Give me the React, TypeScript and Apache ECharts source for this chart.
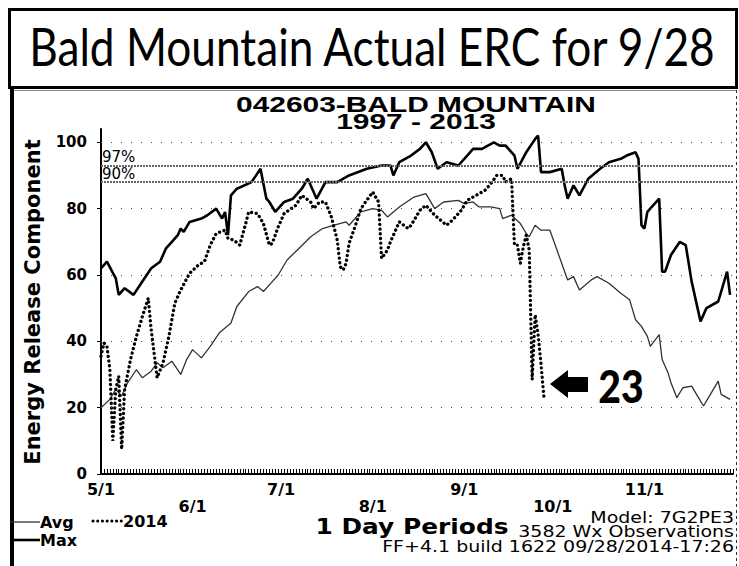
import React, { useEffect, useRef } from "react";
import * as echarts from "echarts";

// ---- axis definitions (day 0 = 5/1) ----
const monthStartDays = [0, 31, 61, 92, 123, 153, 184];
const monthLabels = ["5/1", "6/1", "7/1", "8/1", "9/1", "10/1", "11/1"];
const yTicks = [0, 20, 40, 60, 80, 100];
const pctLevels = [93, 88];
const pctLabels = ["97%", "90%"];

// ---- Max (1997-2013) ----
const maxDays = [0, 2, 5, 6, 8, 11, 14, 17, 20, 22, 24, 26, 27, 28, 30, 34, 36, 39, 41, 42, 43, 44, 46, 51, 54, 56, 57, 59, 62, 65, 68, 70, 72, 73, 76, 80, 84, 90, 95, 98, 99, 101, 105, 108, 110, 112, 114, 117, 121, 124, 126, 129, 133, 135, 137, 140, 141, 144, 147, 148, 149, 152, 156, 157, 158, 160, 162, 165, 169, 172, 176, 178, 181, 182, 183, 184, 185, 189, 190, 191, 193, 196, 198, 200, 203, 205, 209, 212, 213];
const maxVals = [62, 64, 59, 54, 56, 54, 58, 62, 64, 68, 70, 72, 74, 73, 76, 77, 78, 80, 77, 79, 72, 84, 86, 88, 92, 83, 82, 79, 82, 83, 86, 89, 85, 83, 88, 88, 90, 92, 93, 93, 90, 94, 96, 98, 100, 97, 92, 94, 93, 96, 98, 98, 100, 99, 99, 96, 92, 97, 101, 102, 91, 91, 92, 87, 83, 87, 84, 89, 92, 94, 95, 96, 97, 95, 75, 74, 79, 83, 61, 61, 66, 70, 69, 58, 46, 50, 52, 61, 54];

// ---- Avg (1997-2013) ----
const avgDays = [0, 3, 5, 7, 9, 12, 14, 17, 19, 21, 24, 27, 29, 31, 34, 37, 40, 44, 46, 50, 53, 55, 58, 60, 63, 67, 71, 75, 79, 83, 84, 88, 92, 95, 97, 101, 106, 110, 113, 116, 121, 123, 126, 128, 132, 135, 136, 139, 142, 144, 145, 147, 149, 152, 154, 158, 160, 162, 166, 168, 172, 176, 179, 181, 183, 185, 186, 189, 190, 192, 193, 195, 197, 200, 202, 204, 206, 209, 210, 213];
const avgVals = [20, 22.5, 25.5, 23.5, 27.5, 31.5, 29, 31, 33.5, 32, 34, 30, 34.5, 37.5, 35, 38.5, 42.5, 45.5, 50.5, 55, 56.5, 55, 58, 60, 64.5, 68, 71.5, 74, 75, 76, 75, 79, 80, 79.5, 77.5, 80.5, 83.5, 84.5, 80, 82, 82.5, 81.5, 82, 80.5, 80.5, 80, 77, 78, 75.5, 72.5, 71.5, 75, 73.5, 73.5, 68.5, 58.5, 59.5, 55.5, 58.5, 59.5, 57.5, 54.5, 52.5, 46.5, 44.5, 41.5, 38.5, 42, 34.5, 30.5, 27.5, 23, 26, 26.5, 23.5, 20.5, 23.5, 28, 24, 22.5];

// ---- 2014 ----
const y2014Days = [0, 1, 2, 3, 4, 5, 6, 7, 8, 10, 12, 14, 16, 17, 19, 21, 23, 25, 27, 30, 33, 35, 37, 39, 42, 43, 45, 47, 49, 50, 53, 55, 57, 58, 60, 62, 66, 68, 71, 72, 74, 76, 78, 80, 81, 82, 83, 84, 86, 88, 90, 92, 94, 95, 97, 98, 100, 101, 104, 105, 106, 108, 110, 113, 115, 117, 119, 122, 124, 127, 130, 132, 134, 136, 137, 139, 140, 141, 142, 143, 144, 145, 146, 147, 148, 149, 150];
const y2014Vals = [35.5, 39.5, 38.5, 31.5, 10, 25.5, 29.5, 7.5, 25.5, 34.5, 41.5, 47.5, 53, 43.5, 29, 33.5, 41.5, 51.5, 55.5, 60.5, 63, 64, 69, 72.5, 73.5, 71, 70.5, 69, 75.5, 79, 78.5, 75.5, 69, 69.5, 74.5, 78.5, 81, 84, 82, 80, 82, 82, 77.5, 70.5, 62.5, 61.5, 63.5, 69.5, 74.5, 80, 82.5, 85, 82, 65, 67.5, 70, 74, 76, 74, 75, 76.5, 79.5, 81, 78, 76.5, 75, 76.5, 79.5, 82.5, 84, 85.5, 87.5, 90, 90, 88, 89, 69, 69, 63.5, 68.5, 72, 67.5, 28.5, 48, 42, 33, 23];

const dayTicks = Array.from({ length: 215 }, (_, i) => i);

const pairs = (d: number[], v: number[]) => d.map((x, i) => [x, v[i]]);

const FONT = "'DejaVu Sans', Verdana, sans-serif";
const ARIAL = "'Liberation Sans', Arial, sans-serif";

function fitScale(text: string, font: string, target: number) {
  const c = document.createElement("canvas").getContext("2d");
  if (!c) return 1;
  c.font = font;
  const w = c.measureText(text).width;
  return w > 0 ? target / w : 1;
}

export default function App() {
  const ref = useRef<HTMLDivElement>(null);
  useEffect(() => {
    document.body.style.margin = "0";
    if (!ref.current) return;
    const chart = echarts.init(ref.current, undefined, { renderer: "svg" });
    const titleText = "Bald Mountain Actual ERC for 9/28";
    const titleFont = "52px Lato";
    const titleScale = fitScale(titleText, titleFont, 688);
    const chartTitle = "042603-BALD MOUNTAIN";
    const chartTitleFont = `bold 22px ${ARIAL}`;
    const chartTitleScale = fitScale(chartTitle, chartTitleFont, 360);
    const infoFont = `16px ${FONT}`;
    const infoScale = fitScale("FF+4.1 build 1622 09/28/2014-17:26", infoFont, 352);
    const option: any = {
      animation: false,
      backgroundColor: "#fff",
      grid: { left: 101, right: 6, top: 129, bottom: 92 },
      xAxis: {
        type: "value",
        min: 0,
        max: 214,
        axisLine: { lineStyle: { color: "#000", width: 2 } },
        axisTick: { customValues: dayTicks, inside: true, length: 5, lineStyle: { color: "#000", width: 1 } },
        axisLabel: {
          customValues: monthStartDays,
          formatter: (val: number) => {
            const i = monthStartDays.indexOf(val);
            if (i < 0) return "";
            return i % 2 === 1 ? "\n" + monthLabels[i] : monthLabels[i];
          },
          color: "#000",
          fontFamily: FONT,
          fontWeight: "bold",
          fontSize: 16,
          lineHeight: 17,
          margin: 7,
        },
        splitLine: { show: false },
      },
      yAxis: {
        type: "value",
        min: 0,
        max: 104,
        axisLine: { show: true, lineStyle: { color: "#000", width: 2 } },
        axisTick: { show: true, customValues: yTicks, length: 4, lineStyle: { color: "#000" } },
        axisLabel: {
          customValues: yTicks,
          color: "#000",
          fontFamily: FONT,
          fontWeight: "bold",
          fontSize: 15,
          margin: 14,
        },
        splitLine: { show: false },
      },
      series: [
        {
          name: "Avg",
          type: "line",
          data: pairs(avgDays, avgVals),
          showSymbol: false,
          symbol: "none",
          lineStyle: { color: "#333", width: 1.3 },
          z: 2,
          markLine: {
            silent: true,
            symbol: ["none", "none"],
            label: { show: false },
            lineStyle: { color: "#444", type: [1, 9], width: 1 },
            data: yTicks.filter((v) => v > 0).map((v) => ({ yAxis: v })),
          },
        },
        {
          name: "Max",
          type: "line",
          data: pairs(maxDays, maxVals),
          showSymbol: false,
          symbol: "none",
          lineStyle: { color: "#000", width: 2.6 },
          z: 4,
          markLine: {
            silent: true,
            symbol: ["none", "none"],
            lineStyle: { color: "#666", type: [2, 1], width: 2 },
            label: {
              show: true,
              position: "insideStartTop",
              color: "#000",
              fontFamily: FONT,
              fontSize: 15,
              distance: [1, 1],
            },
            data: pctLevels.map((v, i) => ({ yAxis: v, label: { formatter: pctLabels[i] } })),
          },
        },
        {
          name: "2014",
          type: "line",
          data: pairs(y2014Days, y2014Vals),
          showSymbol: false,
          symbol: "none",
          lineStyle: { color: "#000", width: 3.3, type: [0.1, 4.6], cap: "round" },
          z: 3,
        },
      ],
      graphic: [
        // title box
        { type: "rect", shape: { x: 9.5, y: 9.5, width: 727, height: 78 }, style: { fill: "none", stroke: "#000", lineWidth: 3 } },
        {
          type: "text",
          x: 372,
          y: 46,
          scaleX: titleScale,
          style: { text: titleText, font: titleFont, fill: "#000", textAlign: "center", textVerticalAlign: "middle" },
        },
        // chart frame
        { type: "line", shape: { x1: 12, y1: 88, x2: 12, y2: 566 }, style: { stroke: "#000", lineWidth: 4 } },
        { type: "line", shape: { x1: 14, y1: 90.5, x2: 737, y2: 90.5 }, style: { stroke: "#888", lineWidth: 1 } },
        { type: "line", shape: { x1: 736.5, y1: 90, x2: 736.5, y2: 566 }, style: { stroke: "#333", lineWidth: 1, lineDash: [3, 3] } },
        // chart titles
        {
          type: "text",
          x: 416,
          y: 113,
          scaleX: chartTitleScale,
          style: {
            text: chartTitle + "\n1997 - 2013",
            font: chartTitleFont,
            lineHeight: 16.5,
            fill: "#000",
            textAlign: "center",
            textVerticalAlign: "middle",
          },
        },
        // y axis name
        {
          type: "text",
          x: 33,
          y: 302,
          rotation: Math.PI / 2,
          style: { text: "Energy Release Component", font: `bold 21px ${FONT}`, fill: "#000", textAlign: "center", textVerticalAlign: "middle" },
        },
        // x axis name
        {
          type: "text",
          x: 412,
          y: 527,
          scaleX: 1.13,
          style: { text: "1 Day Periods", font: `bold 22px ${FONT}`, lineHeight: 20, fill: "#000", textAlign: "center", textVerticalAlign: "middle" },
        },
        // info text
        {
          type: "text",
          x: 734,
          y: 518,
          scaleX: infoScale,
          style: { text: "Model: 7G2PE3", font: infoFont, lineHeight: 13, fill: "#000", textAlign: "right", textVerticalAlign: "middle" },
        },
        {
          type: "text",
          x: 734,
          y: 532,
          scaleX: infoScale,
          style: { text: "3582 Wx Observations", font: infoFont, lineHeight: 13, fill: "#000", textAlign: "right", textVerticalAlign: "middle" },
        },
        {
          type: "text",
          x: 734,
          y: 547,
          scaleX: infoScale,
          style: { text: "FF+4.1 build 1622 09/28/2014-17:26", font: infoFont, lineHeight: 13, fill: "#000", textAlign: "right", textVerticalAlign: "middle" },
        },
        // legend
        { type: "line", shape: { x1: 10, y1: 522, x2: 40, y2: 522 }, style: { stroke: "#333", lineWidth: 1.3 } },
        { type: "text", x: 40, y: 522, style: { text: "Avg", font: `bold 16px ${FONT}`, fill: "#000", textAlign: "left", textVerticalAlign: "middle" } },
        { type: "line", shape: { x1: 93, y1: 521, x2: 123, y2: 521 }, style: { stroke: "#000", lineWidth: 3, lineDash: [0.1, 4.6], lineCap: "round" } },
        { type: "text", x: 123, y: 521, style: { text: "2014", font: `bold 16px ${FONT}`, fill: "#000", textAlign: "left", textVerticalAlign: "middle" } },
        { type: "line", shape: { x1: 10, y1: 540, x2: 40, y2: 540 }, style: { stroke: "#000", lineWidth: 2.6 } },
        { type: "text", x: 40, y: 540, style: { text: "Max", font: `bold 16px ${FONT}`, fill: "#000", textAlign: "left", textVerticalAlign: "middle" } },
        // annotation
        {
          type: "polygon",
          shape: { points: [[550, 384], [568, 370], [568, 377], [588, 377], [588, 392], [568, 392], [568, 398]] },
          style: { fill: "#000" },
        },
        {
          type: "text",
          x: 621,
          y: 385,
          scaleX: 0.85,
          style: { text: "23", font: "900 46px Lato", fill: "#000", textAlign: "center", textVerticalAlign: "middle" },
        },
      ],
    };
    chart.setOption(option);
    return () => chart.dispose();
  }, []);
  return <div ref={ref} style={{ width: 739, height: 566 }} />;
}
